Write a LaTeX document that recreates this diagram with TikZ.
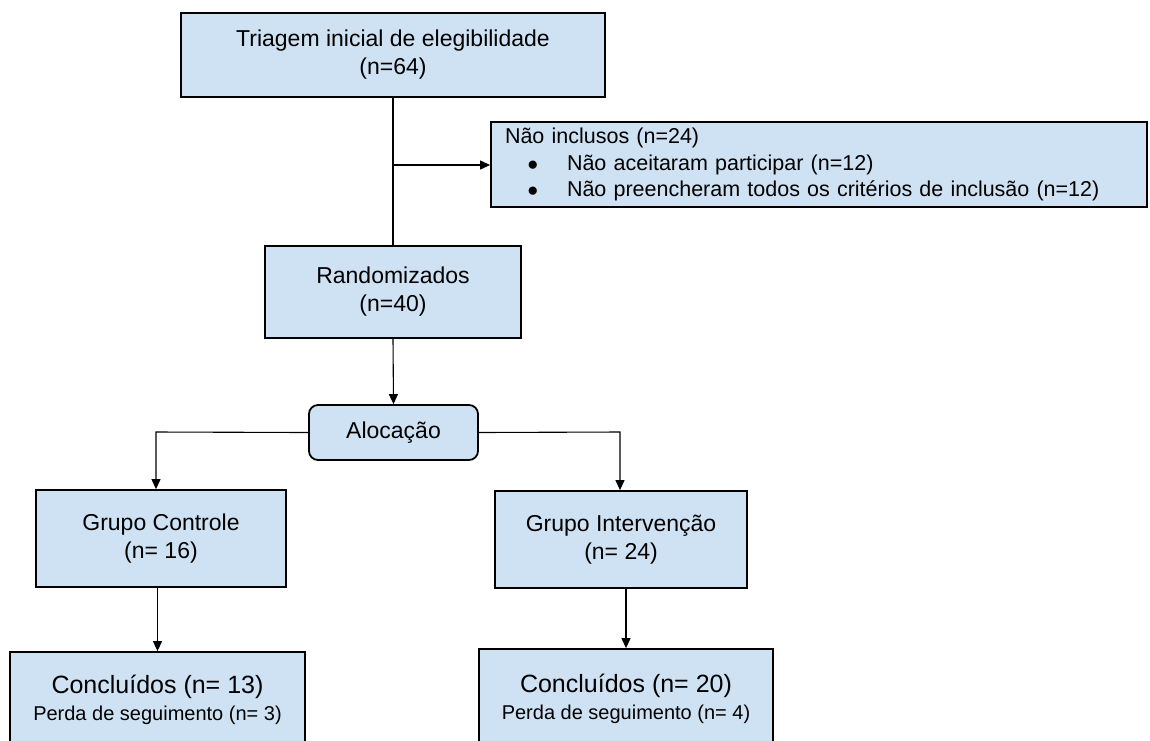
\documentclass[tikz,border=0pt]{standalone}
\usepackage{fontspec}
\setmainfont{Liberation Sans}
\usetikzlibrary{arrows.meta,calc}
\definecolor{boxblue}{HTML}{CFE2F3}
\begin{document}
\begin{tikzpicture}[x=1pt,y=-1pt,
  box/.style={draw=black, fill=boxblue, line width=1.8pt, inner sep=0pt, align=center,
    font=\fontsize{23}{28}\selectfont},
  arr/.style={-{Triangle[length=10pt,width=9pt]}, line width=1.1pt},
  conn/.style={line width=1.1pt}]
\useasboundingbox (0,0) rectangle (1150,740);
\fill[white] (0,0) rectangle (1150,740);
\clip (0,0) rectangle (1150,740);

\node[box, minimum width=424pt, minimum height=84pt] (b1) at (393,55)
  {Triagem inicial de elegibilidade\\(n=64)};
\node[box, minimum width=656pt, minimum height=85pt, text width=628pt, inner xsep=14pt,
  align=left, font=\fontsize{21.5}{26.5}\selectfont] (excl) at (819,164.5)
  {Não inclusos (n=24)\\
   \hspace*{22pt}\makebox[40pt][l]{\raisebox{0pt}{\fontsize{19}{19}\selectfont ●}}Não aceitaram participar (n=12)\\
   \hspace*{22pt}\makebox[40pt][l]{\raisebox{0pt}{\fontsize{19}{19}\selectfont ●}}Não preencheram todos os critérios de inclusão (n=12)};
\node[box, minimum width=256pt, minimum height=92pt] (rand) at (393,292)
  {Randomizados\\(n=40)};
\node[box, rounded corners=9pt, minimum width=169pt, minimum height=55pt] (aloc) at (393.5,432.5)
  {Alocação};
\node[box, minimum width=250pt, minimum height=97pt] (gc) at (161,538.5)
  {Grupo Controle\\(n= 16)};
\node[box, minimum width=252pt, minimum height=97pt] (gi) at (621,539.5)
  {Grupo Intervenção\\(n= 24)};
\node[box, minimum width=295pt, minimum height=96pt, font=\fontsize{25}{27}\selectfont] (c1) at (157.5,700)
  {Concluídos (n= 13)\\{\fontsize{20}{22}\selectfont Perda de seguimento (n= 3)}};
\node[box, minimum width=294pt, minimum height=99pt, font=\fontsize{25}{27}\selectfont] (c2) at (626,698.5)
  {Concluídos (n= 20)\\{\fontsize{20}{22}\selectfont Perda de seguimento (n= 4)}};

\coordinate (j) at (393,165);
\coordinate (cl) at (156,432);
\coordinate (cr) at (620,432);

\draw[conn] (b1.south) -- (rand.north);
\draw[arr] (j) -- (j -| excl.west);
\draw[arr] (rand.south) -- (aloc.north);
\draw[arr] (aloc.west) -- (cl) -- (cl |- gc.north);
\draw[arr] (aloc.east) -- (cr) -- (cr |- gi.north);
\draw[arr] (gc.south -| c1.north) -- (c1.north);
\draw[arr] (gi.south -| c2.north) -- (c2.north);
\end{tikzpicture}
\end{document}
